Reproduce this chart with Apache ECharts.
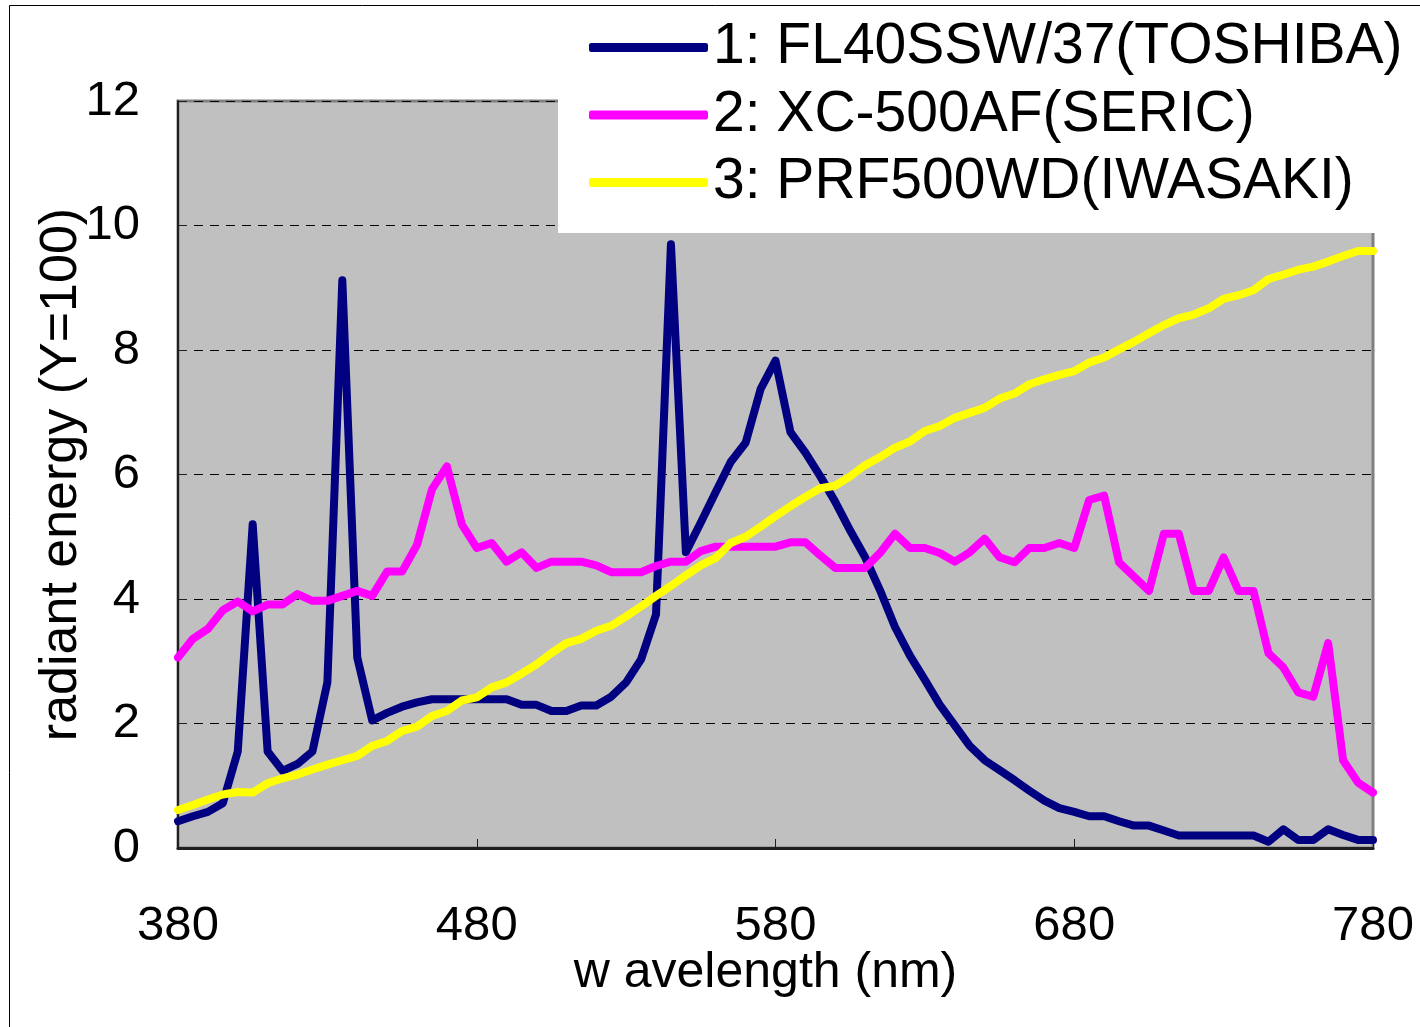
<!DOCTYPE html>
<html>
<head>
<meta charset="utf-8">
<script src="https://cdn.jsdelivr.net/npm/echarts@6/dist/echarts.min.js"></script>
<style>
html,body{margin:0;padding:0;background:#fff;}
#chart{width:1420px;height:1027px;}
</style>
</head>
<body>
<div id="chart"></div>
<script>
const wavelengths = [380,385,390,395,400,405,410,415,420,425,430,435,440,445,450,455,460,465,470,475,480,485,490,495,500,505,510,515,520,525,530,535,540,545,550,555,560,565,570,575,580,585,590,595,600,605,610,615,620,625,630,635,640,645,650,655,660,665,670,675,680,685,690,695,700,705,710,715,720,725,730,735,740,745,750,755,760,765,770,775,780];

const seriesNames = ['1: FL40SSW/37(TOSHIBA)', '2: XC-500AF(SERIC)', '3: PRF500WD(IWASAKI)'];

const toshiba = [0.43,0.51,0.58,0.72,1.55,5.2,1.55,1.24,1.35,1.55,2.66,9.12,3.06,2.05,2.17,2.27,2.34,2.39,2.39,2.39,2.39,2.39,2.39,2.30,2.30,2.20,2.20,2.29,2.29,2.43,2.66,3.03,3.75,9.7,4.75,5.23,5.72,6.2,6.51,7.37,7.83,6.68,6.35,5.97,5.56,5.10,4.67,4.14,3.55,3.09,2.70,2.30,1.97,1.64,1.41,1.25,1.09,0.92,0.76,0.64,0.58,0.51,0.51,0.43,0.36,0.36,0.28,0.20,0.20,0.20,0.20,0.20,0.20,0.10,0.30,0.13,0.13,0.30,0.21,0.13,0.13];

const seric = [3.06,3.36,3.52,3.82,3.96,3.80,3.91,3.91,4.08,3.97,3.97,4.05,4.13,4.05,4.44,4.44,4.87,5.76,6.13,5.20,4.82,4.90,4.60,4.75,4.50,4.60,4.60,4.60,4.54,4.43,4.43,4.43,4.53,4.60,4.60,4.77,4.84,4.84,4.84,4.84,4.84,4.91,4.91,4.70,4.50,4.50,4.50,4.74,5.05,4.82,4.82,4.74,4.60,4.75,4.97,4.67,4.59,4.82,4.82,4.90,4.82,5.59,5.66,4.59,4.36,4.13,5.05,5.05,4.13,4.13,4.67,4.13,4.13,3.13,2.90,2.50,2.43,3.29,1.41,1.05,0.89];

const iwasaki = [0.61,0.69,0.78,0.86,0.90,0.89,1.04,1.12,1.18,1.26,1.34,1.41,1.48,1.64,1.72,1.88,1.95,2.12,2.20,2.37,2.42,2.58,2.66,2.80,2.95,3.13,3.29,3.36,3.49,3.57,3.72,3.88,4.05,4.21,4.38,4.54,4.66,4.90,5.00,5.16,5.33,5.49,5.64,5.78,5.82,5.97,6.15,6.28,6.43,6.53,6.70,6.78,6.91,6.99,7.07,7.22,7.30,7.45,7.53,7.60,7.66,7.80,7.88,8.01,8.13,8.27,8.40,8.51,8.57,8.67,8.82,8.88,8.96,9.14,9.21,9.29,9.34,9.42,9.51,9.59,9.59];

const xTicks = [380, 480, 580, 680, 780];
const yTicks = [0, 2, 4, 6, 8, 10, 12];

const xAxisTitle = 'w avelength (nm)';
const yAxisTitle = 'radiant energy (Y=100)';

const colors = ['#000080', '#FF00FF', '#FFFF00'];
const FONT = "'Liberation Sans', Arial, sans-serif";

function pairs(vals) { return wavelengths.map((w, i) => [w, vals[i]]); }

const chart = echarts.init(document.getElementById('chart'), null, {renderer: 'canvas'});
chart.setOption({
  animation: false,
  backgroundColor: '#ffffff',
  textStyle: {fontFamily: FONT},
  graphic: [{
    type: 'rect', z: -10, silent: true,
    shape: {x: 9.5, y: 5.5, width: 1440, height: 1060},
    style: {fill: null, stroke: '#000', lineWidth: 1}
  }],
  grid: {
    left: 178, right: 47, top: 101, bottom: 179,
    show: true, backgroundColor: '#C0C0C0', borderColor: '#808080', borderWidth: 3
  },
  legend: {
    orient: 'vertical',
    left: 558, top: 10,
    padding: [9, 40, 22, 31],
    backgroundColor: '#ffffff',
    itemWidth: 119, itemHeight: 9, itemGap: 10.5,
    icon: 'roundRect',
    textStyle: {fontFamily: FONT, fontSize: 57, color: '#000', lineHeight: 56},
    data: seriesNames
  },
  xAxis: {
    type: 'value', min: 380, max: 780, interval: 100,
    name: xAxisTitle, nameLocation: 'middle', nameGap: 100, nameMoveOverlap: false,
    nameTextStyle: {fontFamily: FONT, fontSize: 50, color: '#000', padding: [0, 20, 0, 0]},
    axisLine: {show: true, lineStyle: {color: '#202020', width: 3}},
    axisTick: {show: true, inside: true, length: 9, lineStyle: {color: '#202020', width: 1}},
    axisLabel: {margin: 54, fontFamily: FONT, fontSize: 49, color: '#000',
      formatter: v => xTicks.includes(v) ? String(v) : ''},
    splitLine: {show: false}
  },
  yAxis: {
    type: 'value', min: 0, max: 12, interval: 2,
    name: yAxisTitle, nameLocation: 'middle', nameGap: 90, nameRotate: 90, nameMoveOverlap: false,
    nameTextStyle: {fontFamily: FONT, fontSize: 52, color: '#000'},
    axisLine: {show: true, lineStyle: {color: '#202020', width: 2}},
    axisTick: {show: true, inside: true, length: 9, lineStyle: {color: '#202020', width: 1}},
    axisLabel: {margin: 38, fontFamily: FONT, fontSize: 49, color: '#000',
      formatter: v => yTicks.includes(v) ? String(v) : ''},
    splitLine: {show: true, lineStyle: {color: '#000', width: 1, type: [9, 7]}}
  },
  series: [toshiba, seric, iwasaki].map((vals, i) => ({
    name: seriesNames[i],
    type: 'line',
    data: pairs(vals),
    showSymbol: false,
    symbol: 'none',
    color: colors[i],
    lineStyle: {color: colors[i], width: 8, cap: 'round', join: 'round'},
    itemStyle: {color: colors[i]},
    z: 2 + i
  }))
});
</script>
</body>
</html>
